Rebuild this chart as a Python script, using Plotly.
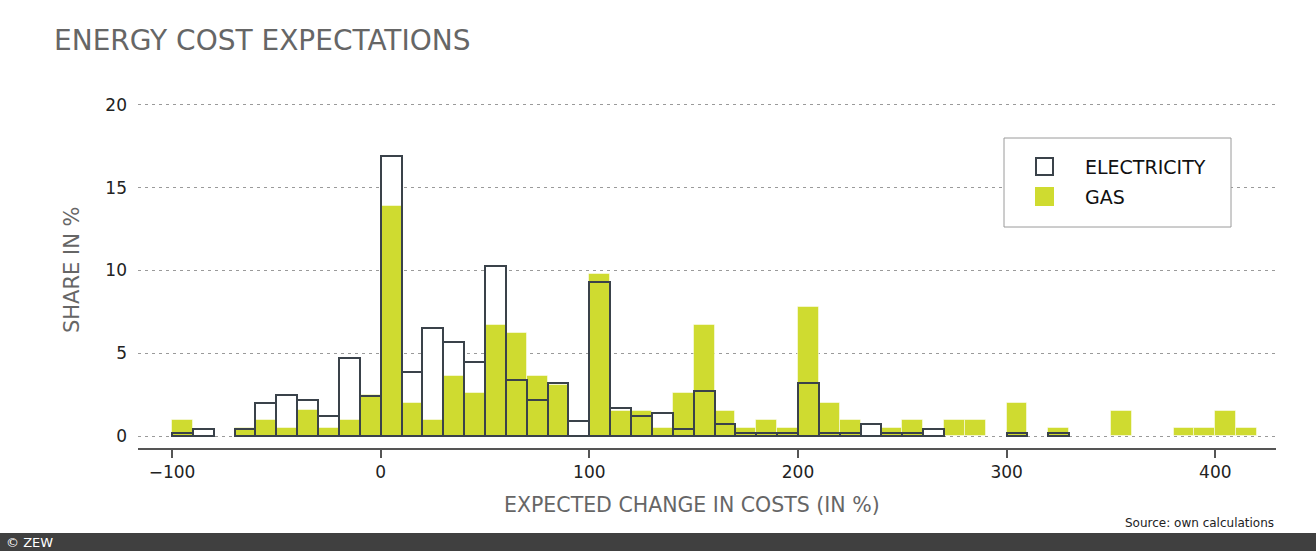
"""
Energy cost expectations: histogram of expected change in costs, electricity vs gas.
"""

import plotly.graph_objects as go

# bin starts (width 10), share in % per bin
bin_starts = list(range(-100, 420, 10))
electricity = [
    0.2, 0.4, 0, 0.4, 2.0, 2.5, 2.2, 1.2, 4.7, 2.4,
    16.9, 3.9, 6.5, 5.7, 4.5, 10.3, 3.4, 2.2, 3.2, 0.9,
    9.3, 1.7, 1.2, 1.4, 0.4, 2.7, 0.7, 0.2, 0.2, 0.2,
    3.2, 0.2, 0.2, 0.7, 0.2, 0.2, 0.4, 0, 0, 0,
    0.2, 0, 0.2, 0, 0, 0, 0, 0, 0, 0,
    0, 0,
]
gas = [
    1.0, 0, 0, 0.5, 1.0, 0.5, 1.6, 0.5, 1.0, 2.5,
    13.9, 2.0, 1.0, 3.6, 2.6, 6.7, 6.2, 3.6, 3.1, 0,
    9.8, 1.5, 1.5, 0.5, 2.6, 6.7, 1.5, 0.5, 1.0, 0.5,
    7.8, 2.0, 1.0, 0, 0.5, 1.0, 0, 1.0, 1.0, 0,
    2.0, 0, 0.5, 0, 0, 1.5, 0, 0, 0.5, 0.5,
    1.5, 0.5,
]
x_ticks = [-100, 0, 100, 200, 300, 400]
y_ticks = [0, 5, 10, 15, 20]

GREEN = "#cfdb30"
DARK = "#3a424a"
GREY_TEXT = "#666666"
FONT = "DejaVu Sans"

W, H = 1316, 551
L, R, T, B = 138, 40, 100, 103


def px_x(X):
    return (X - L) / (W - L - R)


def px_y(Y):
    return (H - B - Y) / (H - T - B)


centers = [s + 5 for s in bin_starts]
elec_vals = [v if v > 0 else None for v in electricity]
gas_vals = [v if v > 0 else None for v in gas]

fig = go.Figure()
# white body of the electricity bars (behind gas)
fig.add_trace(go.Bar(
    x=centers, y=elec_vals, width=10, showlegend=False, hoverinfo="skip",
    marker=dict(color="white", line=dict(width=0)),
))
fig.add_trace(go.Bar(
    x=centers, y=gas_vals, width=10, name="GAS", showlegend=False,
    marker=dict(color=GREEN, line=dict(color="rgba(255,255,255,0.5)", width=1)),
))
# electricity outline on top
fig.add_trace(go.Bar(
    x=centers, y=elec_vals, width=10, name="ELECTRICITY", showlegend=False,
    marker=dict(color="rgba(0,0,0,0)", line=dict(color=DARK, width=2)),
))

fig.update_layout(
    width=W, height=H,
    margin=dict(l=L, r=R, t=T, b=B),
    barmode="overlay", bargap=0,
    plot_bgcolor="white", paper_bgcolor="white",
    font=dict(family=FONT, color="#222222"),
)
fig.update_xaxes(
    range=[-116.3, 429.1], tickvals=x_ticks, showgrid=False, zeroline=False,
    showline=True, linecolor="#555555", linewidth=2,
    ticks="outside", ticklen=8, tickwidth=2, tickcolor="#555555",
    tickfont=dict(size=17, color="#222222"),
)
fig.update_yaxes(
    range=[-0.72, 20.3], tickvals=y_ticks, zeroline=False, showline=False,
    showgrid=True, gridcolor="#9a9a9a", gridwidth=1, griddash="3px,4px",
    ticklabelstandoff=10, tickfont=dict(size=17, color="#222222"),
)

annotations = [
    dict(text="ENERGY COST EXPECTATIONS", x=px_x(52), y=px_y(40),
         xanchor="left", yanchor="middle", font=dict(size=28, color=GREY_TEXT)),
    dict(text="EXPECTED CHANGE IN COSTS (IN %)", x=px_x(692), y=px_y(505),
         xanchor="center", yanchor="middle", font=dict(size=20.5, color=GREY_TEXT)),
    dict(text="SHARE IN %", x=px_x(72), y=px_y(270), textangle=-90,
         xanchor="center", yanchor="middle", font=dict(size=21, color=GREY_TEXT)),
    dict(text="Source: own calculations", x=px_x(1276), y=px_y(523),
         xanchor="right", yanchor="middle", font=dict(size=12, color="#222222")),
    dict(text="© ZEW", x=px_x(4), y=px_y(542),
         xanchor="left", yanchor="middle", font=dict(size=13, color="white")),
    # legend labels
    dict(text="ELECTRICITY", x=px_x(1083), y=px_y(167),
         xanchor="left", yanchor="middle", font=dict(size=19, color="#111111")),
    dict(text="GAS", x=px_x(1083), y=px_y(197),
         xanchor="left", yanchor="middle", font=dict(size=19, color="#111111")),
]
for a in annotations:
    a.update(xref="paper", yref="paper", showarrow=False)
fig.update_layout(annotations=annotations)

shapes = [
    # footer band
    dict(x0=0, x1=W, y0=533, y1=H, fillcolor="#404040", line=dict(width=0)),
    # legend box and swatches
    dict(x0=1004, x1=1231, y0=138, y1=227, fillcolor="white",
         line=dict(color="#9a9a9a", width=1)),
    dict(x0=1036, x1=1053, y0=158, y1=175, fillcolor="white",
         line=dict(color=DARK, width=2)),
    dict(x0=1035, x1=1054, y0=187, y1=206, fillcolor=GREEN, line=dict(width=0)),
]
for s in shapes:
    fig.add_shape(type="rect", xref="paper", yref="paper",
                  x0=px_x(s["x0"]), x1=px_x(s["x1"]),
                  y0=px_y(s["y1"]), y1=px_y(s["y0"]),
                  fillcolor=s["fillcolor"], line=s["line"], layer="above")

fig.write_html("out.html", config={"displayModeBar": False},
               post_script="document.body.style.margin='0';")
